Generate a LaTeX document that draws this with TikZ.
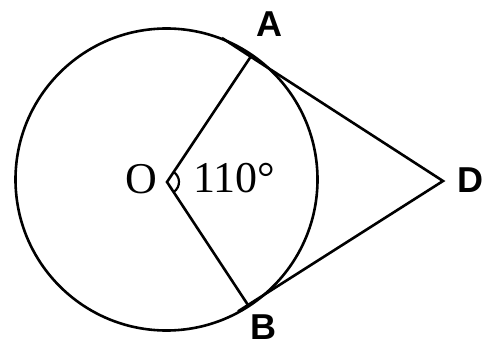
\documentclass[tikz,border=0pt]{standalone}
\usepackage{fontspec}
\setmainfont{Liberation Serif}
\newfontfamily\lblfont{Liberation Sans}
\usetikzlibrary{calc}
\begin{document}
\begin{tikzpicture}[x=1pt,y=-1pt,
  geom/.style={line width=2.6pt,black},
  ptlabel/.style={font=\lblfont\bfseries\fontsize{36}{36}\selectfont,inner sep=0pt},
  numlabel/.style={font=\fontsize{44}{44}\selectfont,inner sep=0pt}]
\useasboundingbox (0,0) rectangle (486,347);
\coordinate (C) at (166.5,179.5);
\coordinate (O) at (167,182);
\coordinate (A) at (250.7,56.7);
\coordinate (B) at (248,305);
\coordinate (D) at (443,181);
\coordinate (a0) at (222,38);
\coordinate (b0) at (238,311.4);
\draw[geom] (C) circle[radius=151];
\draw[geom] (A) -- (O) -- (B);
\draw[geom,line join=miter] (a0) -- (A) -- (D) -- (B) -- (b0);
\draw[line width=2.2pt] ($(O)+(57:12)$) arc[start angle=57,end angle=-57,radius=12];
\node[ptlabel] (lA) at (269,24) {A};
\node[ptlabel] (lB) at (263,327) {B};
\node[ptlabel] (lD) at (470,180) {D};
\node[numlabel] (lO) at (141,179) {O};
\node[numlabel] (lang) at (234,178) {110°};
\end{tikzpicture}
\end{document}
